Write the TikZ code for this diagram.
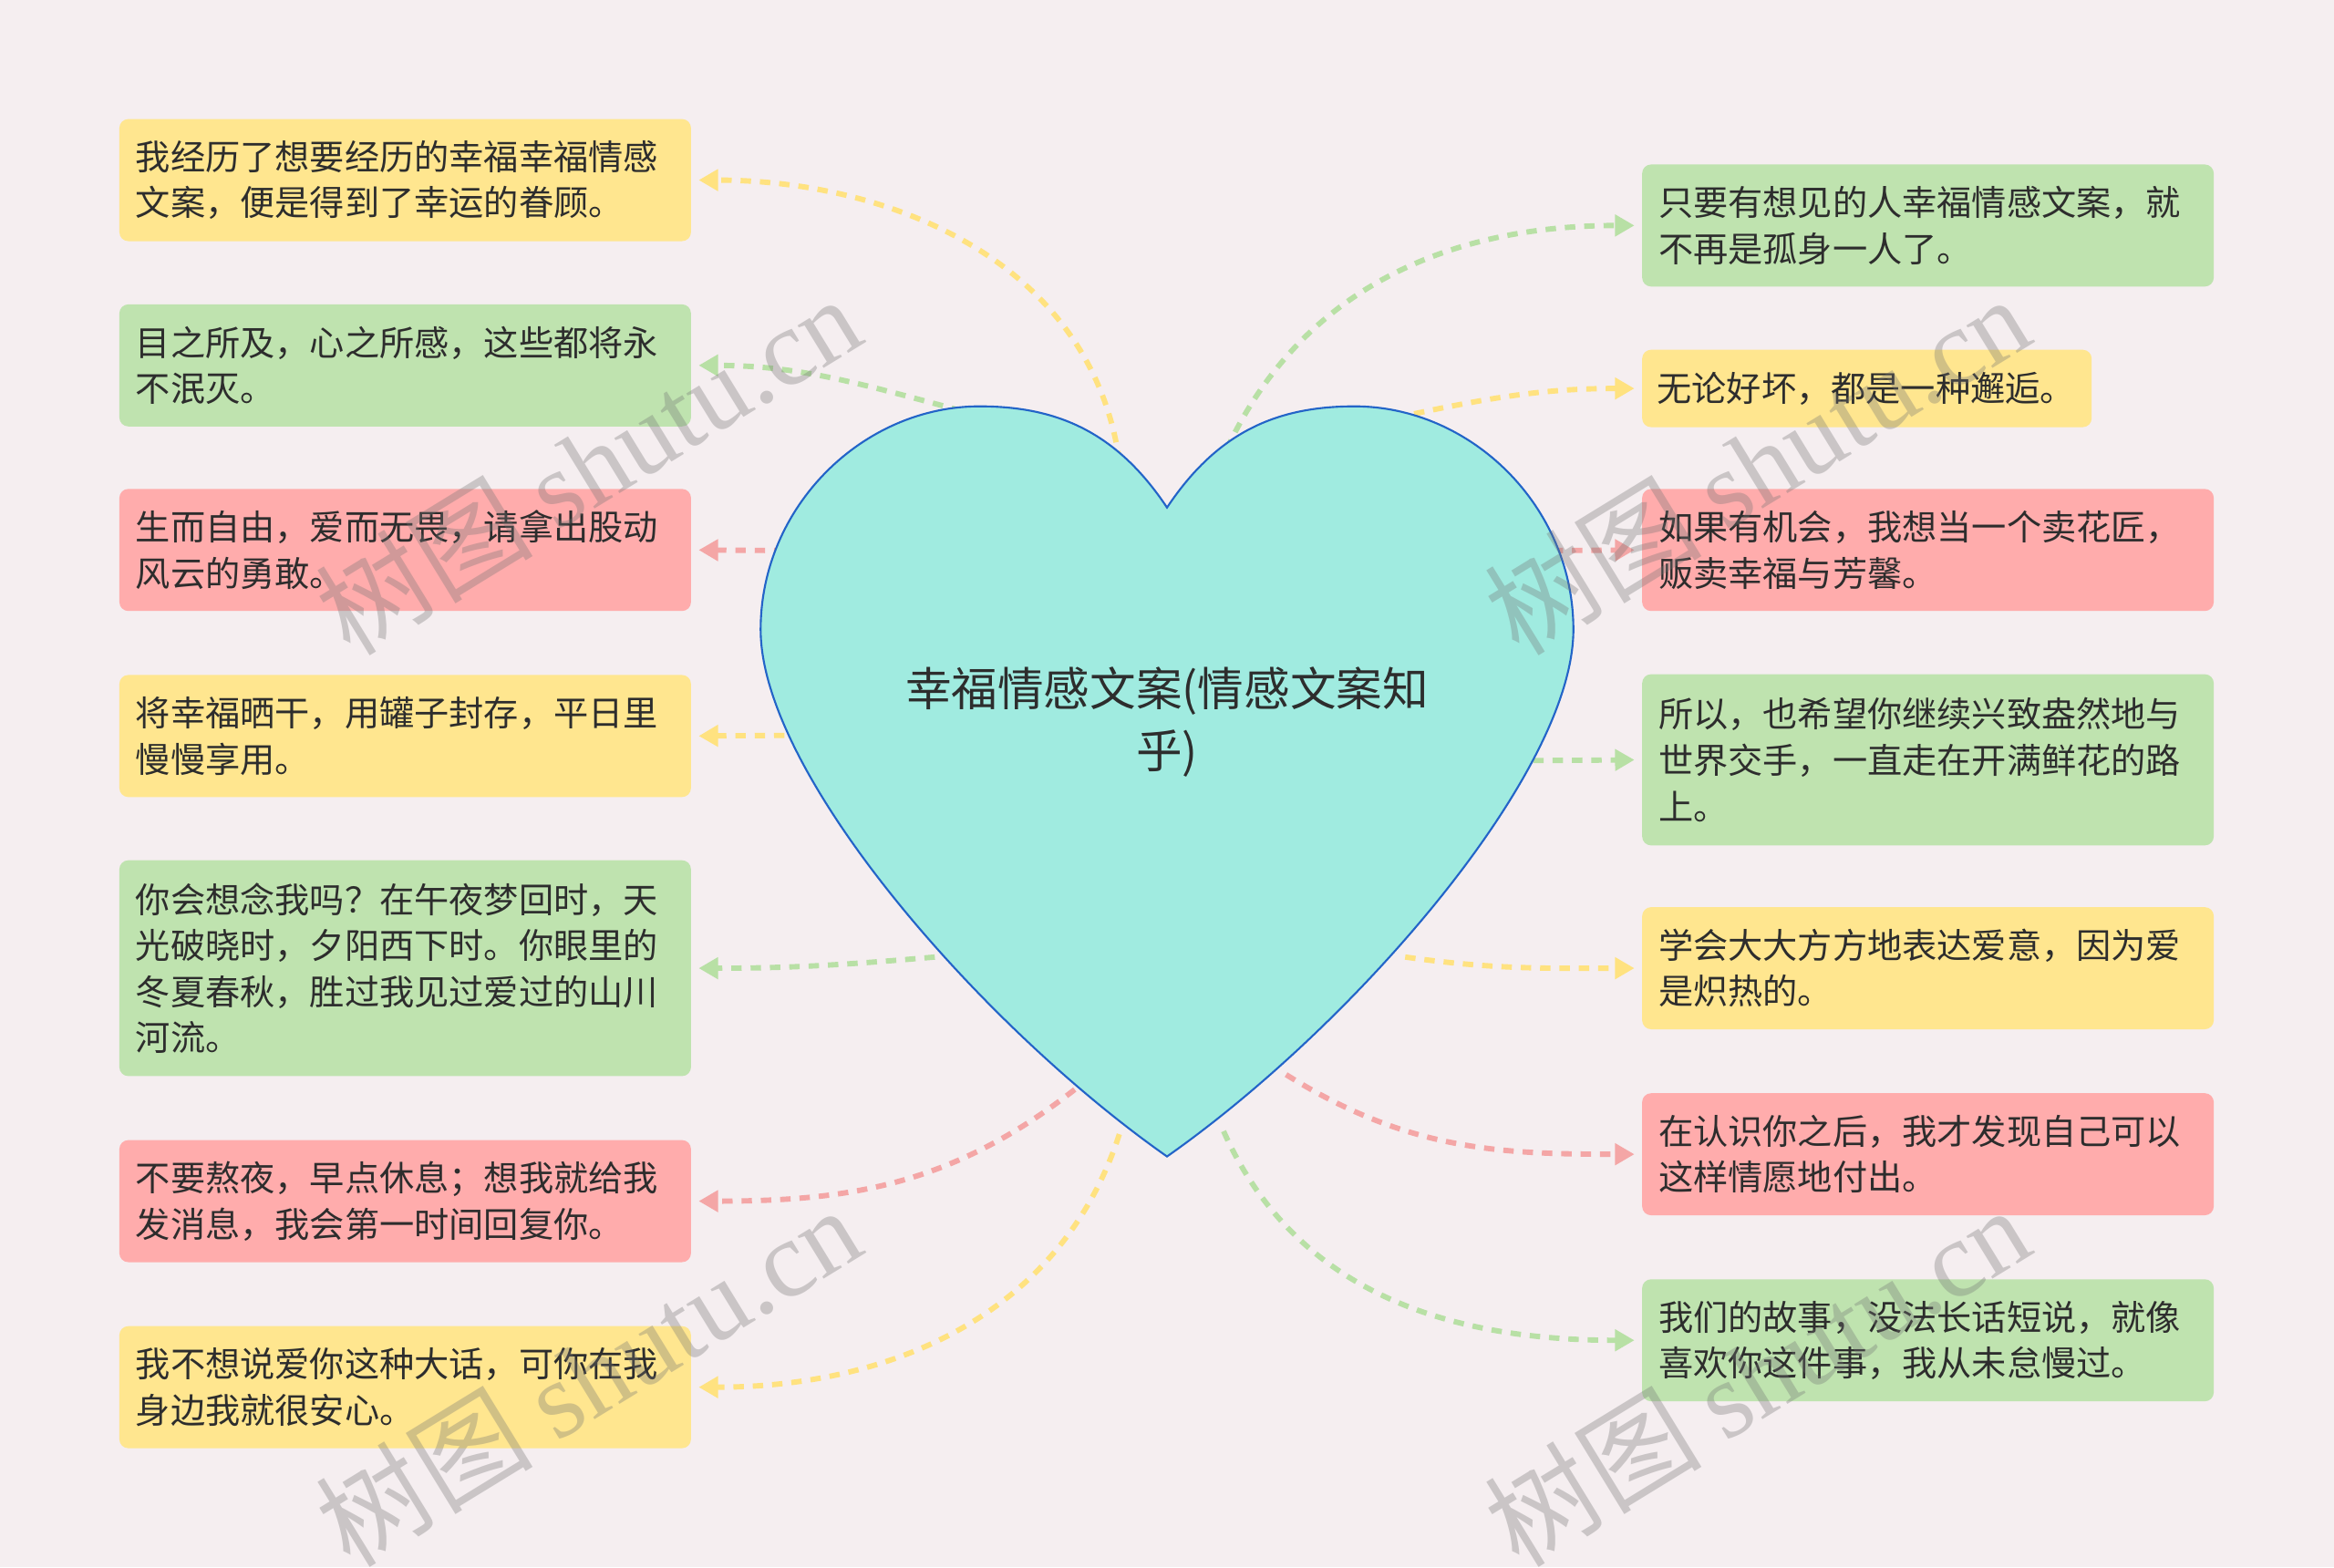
\documentclass[tikz,border=0pt]{standalone}
\usepackage{fontspec}
\setmainfont{Noto Sans CJK SC}
\newfontfamily\wmlatin{Liberation Serif}
\usetikzlibrary{arrows.meta}

\definecolor{bgPink}{RGB}{245,238,240}
\definecolor{txtDark}{RGB}{45,45,45}
\definecolor{boxYellow}{RGB}{255,230,143}
\definecolor{boxGreen}{RGB}{191,227,175}
\definecolor{boxRed}{RGB}{255,172,172}
\definecolor{lnYellow}{RGB}{255,226,128}
\definecolor{lnGreen}{RGB}{184,224,165}
\definecolor{lnRed}{RGB}{244,166,166}
\definecolor{heartFill}{RGB}{160,235,224}
\definecolor{heartLine}{RGB}{35,100,200}

\begin{document}
\begin{tikzpicture}[
	x=1pt, y=-1pt,
	>={Triangle[length=13pt,width=14pt]},
	every node/.style={font=\fontsize{23.4pt}{31pt}\selectfont, text=txtDark},
	box/.style={rounded corners=6pt, align=left, text width=362pt, inner xsep=11pt, inner ysep=0pt, minimum height=82pt},
	lbox/.style={box, anchor=west},
	rbox/.style={box, anchor=west},
	link/.style={->, line width=3.6pt, dash pattern=on 7pt off 6pt, shorten >=5pt},
	heart/.style={fill=heartFill, draw=heartLine, line width=1.3pt},
	wmark/.style={opacity=0.33, text=black!55, rotate=31.5, font=\fontsize{73pt}{73pt}\selectfont}
	]
	
	\useasboundingbox[fill=bgPink] (0,0) rectangle (1568,1053);
	
	%--- left boxes ---
	\node[lbox, fill=boxYellow] (L1) at (80,121) {我经历了想要经历的幸福幸福情感\\文案，便是得到了幸运的眷顾。};
	\node[lbox, fill=boxGreen] (L2) at (80,245.5) {目之所及，心之所感，这些都将永\\不泯灭。};
	\node[lbox, fill=boxRed] (L3) at (80,369.5) {生而自由，爱而无畏，请拿出股动\\风云的勇敢。};
	\node[lbox, fill=boxYellow] (L4) at (80,494.5) {将幸福晒干，用罐子封存，平日里\\慢慢享用。};
	\node[lbox, fill=boxGreen, minimum height=145pt] (L5) at (80,650.5) {你会想念我吗？在午夜梦回时，天\\光破晓时，夕阳西下时。你眼里的\\冬夏春秋，胜过我见过爱过的山川\\河流。};
	\node[lbox, fill=boxRed] (L6) at (80,807) {不要熬夜，早点休息；想我就给我\\发消息，我会第一时间回复你。};
	\node[lbox, fill=boxYellow] (L7) at (80,932) {我不想说爱你这种大话，可你在我\\身边我就很安心。};
	
	%--- right boxes ---
	\node[rbox, fill=boxGreen] (R1) at (1103,151.5) {只要有想见的人幸福情感文案，就\\不再是孤身一人了。};
	\node[rbox, fill=boxYellow, text width=282pt, inner xsep=10pt, minimum height=52pt] (R2) at (1103,261) {无论好坏，都是一种邂逅。};
	\node[rbox, fill=boxRed] (R3) at (1103,369.5) {如果有机会，我想当一个卖花匠，\\贩卖幸福与芳馨。};
	\node[rbox, fill=boxGreen, minimum height=115pt] (R4) at (1103,510.5) {所以，也希望你继续兴致盎然地与\\世界交手，一直走在开满鲜花的路\\上。};
	\node[rbox, fill=boxYellow] (R5) at (1103,650.5) {学会大大方方地表达爱意，因为爱\\是炽热的。};
	\node[rbox, fill=boxRed] (R6) at (1103,775.5) {在认识你之后，我才发现自己可以\\这样情愿地付出。};
	\node[rbox, fill=boxGreen] (R7) at (1103,900.5) {我们的故事，没法长话短说，就像\\喜欢你这件事，我从未怠慢过。};
	
	%--- start points on the heart ---
	\coordinate (sL1) at (752,310);
	\coordinate (sL2) at (646,276);
	\coordinate (sL3) at (540,370);
	\coordinate (sL4) at (540,494);
	\coordinate (sL5) at (628,643);
	\coordinate (sL6) at (722,732);
	\coordinate (sL7) at (752,762);
	\coordinate (sR1) at (824,302);
	\coordinate (sR2) at (950,278);
	\coordinate (sR3) at (1030,370);
	\coordinate (sR4) at (1030,511);
	\coordinate (sR5) at (944,643);
	\coordinate (sR6) at (864,722);
	\coordinate (sR7) at (822,760);
	
	%--- connectors ---
	\draw[link, lnYellow] (sL1) to[out=98, in=0] (L1.east);
	\draw[link, lnGreen] (sL2) to[out=165, in=0] (L2.east);
	\draw[link, lnRed] (sL3) -- (L3.east);
	\draw[link, lnYellow] (sL4) -- (L4.east);
	\draw[link, lnGreen] (sL5) to[out=185, in=0] (L5.east);
	\draw[link, lnRed] (sL6) to[out=218, in=0] (L6.east);
	\draw[link, lnYellow] (sL7) to[out=252, in=0] (L7.east);
	
	\draw[link, lnGreen] (sR1) to[out=65, in=180] (R1.west);
	\draw[link, lnYellow] (sR2) to[out=12, in=180] (R2.west);
	\draw[link, lnRed] (sR3) -- (R3.west);
	\draw[link, lnGreen] (sR4) -- (R4.west);
	\draw[link, lnYellow] (sR5) to[out=-8, in=180] (R5.west);
	\draw[link, lnRed] (sR6) to[out=-32, in=180] (R6.west);
	\draw[link, lnGreen] (sR7) to[out=-66, in=180] (R7.west);
	
	%--- the heart ---
	\filldraw[heart] (784,341)
		.. controls (750,290) and (710,273) .. (658,273)
		.. controls (580,273) and (511,340) .. (511,423)
		.. controls (511,520) and (660,690) .. (784,777)
		.. controls (908,690) and (1057,520) .. (1057,423)
		.. controls (1057,340) and (988,273) .. (910,273)
		.. controls (858,273) and (818,290) .. cycle;
	\node[align=center, font=\fontsize{31pt}{42pt}\selectfont] (title) at (784,485) {幸福情感文案(情感文案知\\乎)};
	
	%--- watermarks ---
	\node[wmark] (wm1) at (395,312) {树图 {\wmlatin shutu.cn}};
	\node[wmark] (wm2) at (1180,312) {树图 {\wmlatin shutu.cn}};
	\node[wmark] (wm3) at (395,924) {树图 {\wmlatin shutu.cn}};
	\node[wmark] (wm4) at (1180,924) {树图 {\wmlatin shutu.cn}};
	
\end{tikzpicture}
\end{document}
